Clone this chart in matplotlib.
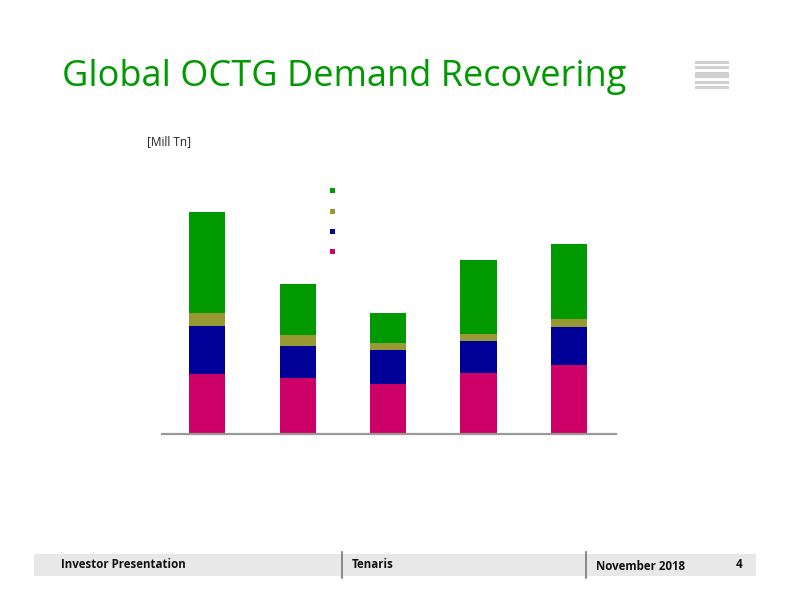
import matplotlib
matplotlib.use("Agg")
import matplotlib.pyplot as plt
from matplotlib.patches import Rectangle
import numpy as np

# ---- data (Mill Tn) ----
categories = ["2014", "2015", "2016", "2017", "2018"]
series_names = ["Rest of World", "Middle East", "Canada", "USA"]
pink = [6.02, 5.62, 4.98, 6.08, 6.92]
blue = [4.76, 3.23, 3.40, 3.24, 3.76]
olive = [1.37, 1.07, 0.77, 0.70, 0.87]
green = [10.10, 5.10, 2.97, 7.40, 7.50]
colors = {"green": "#009900", "olive": "#999933", "blue": "#000099", "pink": "#CC0066"}

W, H = 792, 612
fig = plt.figure(figsize=(W / 100, H / 100), dpi=100)
plt.rcParams['font.family'] = ['Open Sans', 'DejaVu Sans']

def fx(px):
    return px / W

def fy(py):
    return 1 - py / H

# title
fig.text(fx(62), fy(86), "Global OCTG Demand Recovering", color="#009900",
         fontsize=26, ha="left", va="baseline", family="Open Sans")

# top-right stripes icon
for (y0, h) in [(61, 3), (66, 3), (72, 6), (81, 3), (86, 3)]:
    fig.patches.append(Rectangle((fx(695), fy(y0 + h)), fx(729) - fx(695), h / H,
                                 transform=fig.transFigure, color="#cfcfcf", lw=0))

# unit label
fig.text(fx(147), fy(145), "[Mill Tn]", fontsize=8.5, ha="left", va="baseline",
         color="#222222")

# chart axes
ax_left, ax_right, ax_bottom, ax_top = 162, 616, 434, 180
ax = fig.add_axes([fx(ax_left), fy(ax_bottom), (ax_right - ax_left) / W,
                   (ax_bottom - ax_top) / H])
x = np.arange(len(categories))
pink_a, blue_a, olive_a, green_a = map(np.array, (pink, blue, olive, green))
ax.bar(x, pink_a, width=0.4, color=colors["pink"], lw=0)
ax.bar(x, blue_a, width=0.4, bottom=pink_a, color=colors["blue"], lw=0)
ax.bar(x, olive_a, width=0.4, bottom=pink_a + blue_a, color=colors["olive"], lw=0)
ax.bar(x, green_a, width=0.4, bottom=pink_a + blue_a + olive_a, color=colors["green"], lw=0)
ax.set_xlim(-0.5, 4.52)
ax.set_ylim(0, (ax_bottom - ax_top) / 10)
for s in ["top", "right", "left"]:
    ax.spines[s].set_visible(False)
ax.spines["bottom"].set_color("#999999")
ax.spines["bottom"].set_linewidth(1.6)
ax.set_xticks([])
ax.set_yticks([])
ax.patch.set_alpha(0)

# legend markers (no text)
for yy, c in zip([190.7, 211.3, 231.7, 251.3], ["green", "olive", "blue", "pink"]):
    fig.patches.append(Rectangle((fx(330), fy(yy + 2.5)), 5 / W, 5 / H,
                                 transform=fig.transFigure, color=colors[c], lw=0))

# footer band
fig.patches.append(Rectangle((fx(34), fy(576)), (756 - 34) / W, 22 / H,
                             transform=fig.transFigure, color="#e8e8e8", lw=0))
for xx in [342, 586]:
    fig.lines.append(plt.Line2D([fx(xx), fx(xx)], [fy(578), fy(552)],
                                transform=fig.transFigure, color="#777777", lw=1.2))
fkw = dict(fontsize=8.3, fontweight="bold", va="baseline", color="#111111")
fig.text(fx(61), fy(568), "Investor Presentation", ha="left", **fkw)
fig.text(fx(352), fy(568), "Tenaris", ha="left", **fkw)
fig.text(fx(596), fy(570), "November 2018", ha="left", **fkw)
fig.text(fx(742), fy(568), "4", ha="right", **fkw)

fig.savefig("out.png", dpi=100)
